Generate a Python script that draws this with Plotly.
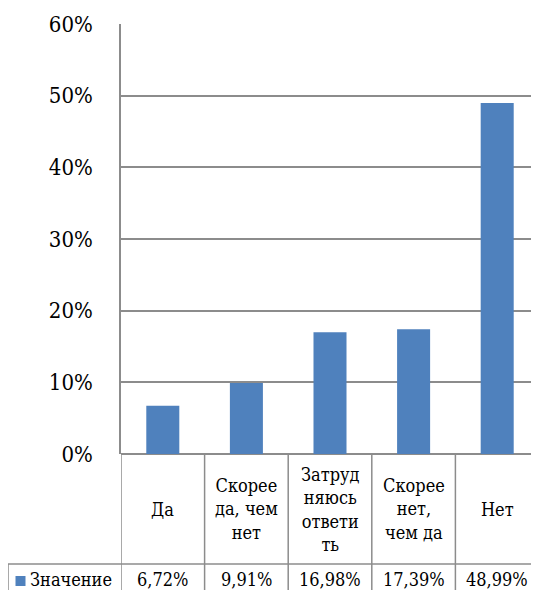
import plotly.graph_objects as go

categories = ["Да", "Скорее<br>да, чем<br>нет", "Затруд<br>няюсь<br>ответи<br>ть", "Скорее<br>нет,<br>чем да", "Нет"]
values = [0.0672, 0.0991, 0.1698, 0.1739, 0.4899]
value_labels = ["6,72%", "9,91%", "16,98%", "17,39%", "48,99%"]
series_name = "Значение"
tick_vals = [0, 0.1, 0.2, 0.3, 0.4, 0.5, 0.6]
tick_text = ["0%", "10%", "20%", "30%", "40%", "50%", "60%"]

OFF = 8
W, H = 539 - OFF, 590 - OFF
PL, PT, PB, PR = 121, 24, 454, 539
pw = PR - PL
ph = PB - PT

def py(p):
    return (PB - p) / ph

def px(p):
    return (p - PL) / pw

BAR = "#4F81BD"
GRID = "#8C8C8C"
FONT = "DejaVu Serif Condensed, DejaVu Serif"
TS = 18

xs = list(range(len(categories)))
fig = go.Figure(go.Bar(x=xs, y=values, marker_color=BAR, marker_line_width=0, name=series_name, width=0.395))

shapes = []
for i in range(len(categories) + 1):
    shapes.append(dict(type="line", xref="x", yref="paper", x0=i - 0.5, x1=i - 0.5,
                       y0=0, y1=py(600), line=dict(color=GRID, width=1.5)))
shapes.append(dict(type="line", xref="paper", yref="paper", x0=px(8), x1=1,
                   y0=py(564), y1=py(564), line=dict(color=GRID, width=1.5)))
shapes.append(dict(type="line", xref="paper", yref="paper", x0=px(8), x1=px(8),
                   y0=py(564), y1=py(600), line=dict(color=GRID, width=1.5)))
shapes.append(dict(type="rect", xref="paper", yref="paper", x0=px(15.5), x1=px(25.5),
                   y0=py(586), y1=py(576), fillcolor=BAR, line=dict(width=0)))

annotations = []
for i, c in enumerate(categories):
    annotations.append(dict(x=i, y=py(509), xref="x", yref="paper", text=c, showarrow=False,
                            xanchor="center", yanchor="middle", align="center",
                            font=dict(family=FONT, size=TS, color="#000")))
for i, v in enumerate(value_labels):
    annotations.append(dict(x=i, y=py(579), xref="x", yref="paper", text=v, showarrow=False,
                            xanchor="center", yanchor="middle",
                            font=dict(family=FONT, size=TS, color="#000")))
annotations.append(dict(x=px(28), y=py(579), xref="paper", yref="paper", text=series_name,
                        showarrow=False, xanchor="left", yanchor="middle",
                        font=dict(family=FONT, size=TS, color="#000")))

fig.update_layout(
    width=W, height=H,
    margin=dict(l=PL - OFF, r=0, t=PT - OFF, b=H + OFF - PB),
    paper_bgcolor="white", plot_bgcolor="white",
    showlegend=False,
    font=dict(family=FONT),
    shapes=shapes,
    annotations=annotations,
    xaxis=dict(range=[-0.5, len(categories) - 0.5], showticklabels=False, showgrid=False,
               zeroline=False, showline=False, ticks=""),
    yaxis=dict(range=[0, 0.6], tickvals=tick_vals, ticktext=tick_text,
               showgrid=True, gridcolor=GRID, gridwidth=1.5,
               showline=True, linecolor=GRID, linewidth=1.5,
               zeroline=True, zerolinecolor=GRID, zerolinewidth=1.5,
               ticks="", ticklabelstandoff=22,
               tickfont=dict(family=FONT, size=22, color="#000")),
)

fig.write_html("out.html")
